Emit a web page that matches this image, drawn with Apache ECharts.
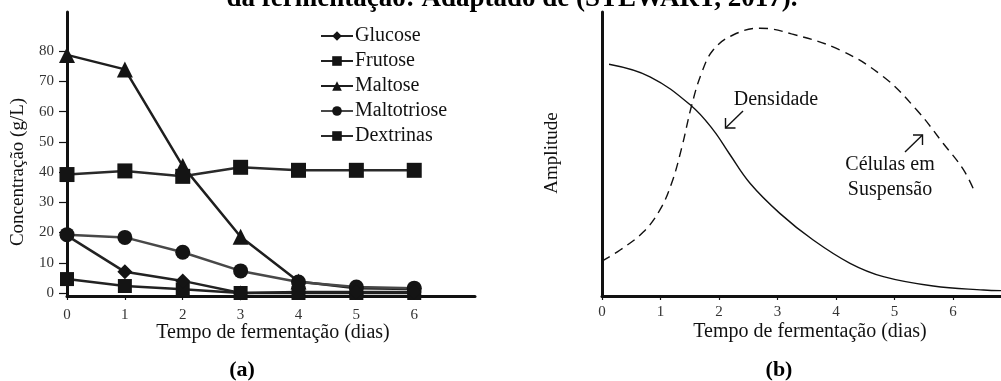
<!DOCTYPE html>
<html>
<head>
<meta charset="utf-8">
<script src="https://cdn.jsdelivr.net/npm/echarts@6/dist/echarts.min.js"></script>
<style>
html,body{margin:0;padding:0;background:#fff;}
#chart{width:1001px;height:381px;}
</style>
</head>
<body>
<div id="chart"></div>
<script>
// ---- Panel (a) data ----
const days = [0, 1, 2, 3, 4, 5, 6];
const glucose = [19, 7, 4, 0, 0.3, 0.3, 0.3];
const frutose = [4.6, 2.3, 1.2, 0, 0, 0, 0];
const maltose = [78.8, 74, 42, 18.6, 3.8, 1.6, 1.3];
const maltotriose = [19.3, 18.4, 13.5, 7.3, 3.6, 2, 1.6];
const dextrinas = [39.2, 40.4, 38.6, 41.6, 40.6, 40.6, 40.6];
const yTicksA = [0, 10, 20, 30, 40, 50, 60, 70, 80];
const xTicks = [0, 1, 2, 3, 4, 5, 6];

// ---- Panel (b) data (relative amplitude) ----
const densX = [0.12, 0.82, 1.53, 1.9, 2.18, 2.53, 3.04, 3.61, 4.24, 4.81, 5.66, 6.52, 6.82];
const densY = [81.6, 77.2, 66.9, 58.5, 50, 39.7, 29.1, 19.7, 11.5, 6.8, 3.5, 2.1, 1.9];
const celX = [0, 0.31, 0.71, 0.99, 1.19, 1.36, 1.53, 1.7, 1.9, 2.24, 2.7, 3.24, 4.07, 4.81, 5.38, 5.83, 6.18, 6.38];
const celY = [12.3, 16.2, 22.6, 30.3, 39.7, 52, 66.9, 78.4, 86.6, 91.9, 94.3, 92.3, 86.6, 77.2, 65.5, 53.8, 44.4, 36.2];

const serif = 'Liberation Serif';
const pair = (xs, ys) => xs.map((x, i) => [x, ys[i]]);

const chart = echarts.init(document.getElementById('chart'), null, {renderer: 'canvas'});

function lineSeries(name, values, symbol, size, lineColor) {
  return {
    name: name, type: 'line', xAxisIndex: 0, yAxisIndex: 0,
    data: pair(days, values),
    symbol: symbol, symbolSize: size, showAllSymbol: true,
    itemStyle: {color: '#141414'},
    lineStyle: {color: lineColor || '#222', width: 2.5},
    clip: false, animation: false
  };
}

function txt(text, x, y, size, opts) {
  opts = opts || {};
  return {
    type: 'text', x: x, y: y, rotation: opts.rot || 0, silent: true,
    style: {
      text: text, fill: opts.color || '#111', align: 'center', verticalAlign: 'middle',
      font: (opts.bold ? 'bold ' : '') + size + 'px "' + serif + '"'
    }
  };
}
function poly(points, w) {
  return {type: 'polyline', silent: true, shape: {points: points}, style: {stroke: '#111', lineWidth: w || 1.4, fill: null}};
}

const option = {
  animation: false,
  backgroundColor: '#fff',
  textStyle: {fontFamily: serif},
  grid: [
    {left: 67, top: 12, width: 408, height: 284},
    {left: 602, top: 12, width: 399, height: 284}
  ],
  legend: {
    orient: 'vertical', left: 320, top: 26, padding: 0, itemWidth: 32, itemHeight: 12, itemGap: 5,
    textStyle: {fontFamily: serif, fontSize: 20, color: '#111', padding: [0, 0, 0, -3]},
    data: ['Glucose', 'Frutose', 'Maltose', 'Maltotriose', 'Dextrinas']
  },
  xAxis: [
    {
      type: 'value', gridIndex: 0, min: 0, max: 7.05, interval: 1,
      axisLine: {onZero: false, lineStyle: {color: '#111', width: 3}},
      axisTick: {show: true, length: 4, customValues: xTicks, lineStyle: {color: '#111', width: 1.2}},
      axisLabel: {customValues: xTicks, margin: 12, fontFamily: serif, fontSize: 15, color: '#333'},
      splitLine: {show: false}
    },
    {
      type: 'value', gridIndex: 1, min: 0, max: 6.82, interval: 1,
      axisLine: {onZero: false, lineStyle: {color: '#111', width: 3}},
      axisTick: {show: true, length: 4, customValues: xTicks, lineStyle: {color: '#111', width: 1.2}},
      axisLabel: {customValues: xTicks, margin: 9, fontFamily: serif, fontSize: 15, color: '#333'},
      splitLine: {show: false}
    }
  ],
  yAxis: [
    {
      type: 'value', gridIndex: 0, min: -1, max: 93, interval: 10,
      axisLine: {show: true, onZero: false, lineStyle: {color: '#111', width: 3}},
      axisTick: {show: true, length: 8, customValues: yTicksA, lineStyle: {color: '#111', width: 1.2}},
      axisLabel: {customValues: yTicksA, margin: 13, fontFamily: serif, fontSize: 15, color: '#333'},
      splitLine: {show: false}
    },
    {
      type: 'value', gridIndex: 1, min: 0, max: 100,
      axisLine: {show: true, onZero: false, lineStyle: {color: '#111', width: 3}},
      axisTick: {show: false}, axisLabel: {show: false}, splitLine: {show: false}
    }
  ],
  series: [
    lineSeries('Dextrinas', dextrinas, 'rect', 15, '#2a2a2a'),
    lineSeries('Maltose', maltose, 'triangle', 16, '#1e1e1e'),
    lineSeries('Maltotriose', maltotriose, 'circle', 15, '#484848'),
    lineSeries('Frutose', frutose, 'rect', 14, '#222'),
    lineSeries('Glucose', glucose, 'diamond', 15, '#222'),
    {
      name: 'Densidade', type: 'line', xAxisIndex: 1, yAxisIndex: 1,
      data: pair(densX, densY), smooth: 0.4, showSymbol: false, symbol: 'none',
      lineStyle: {color: '#111', width: 1.4}, clip: true
    },
    {
      name: 'Células em Suspensão', type: 'line', xAxisIndex: 1, yAxisIndex: 1,
      data: pair(celX, celY), smooth: 0.4, showSymbol: false, symbol: 'none',
      lineStyle: {color: '#111', width: 1.4, type: [9, 6]}, clip: true
    }
  ],
  graphic: [
    txt('da fermentação: Adaptado de (STEWART, 2017).', 512, -1, 27, {bold: true, color: '#000'}),
    txt('Concentração (g/L)', 18, 172, 19, {rot: Math.PI / 2}),
    txt('Tempo de fermentação (dias)', 273, 333, 20),
    txt('(a)', 242, 370, 22, {bold: true, color: '#000'}),
    txt('Amplitude', 552, 153, 19, {rot: Math.PI / 2}),
    txt('Tempo de fermentação (dias)', 810, 332, 20),
    txt('(b)', 779, 370, 22, {bold: true, color: '#000'}),
    txt('Densidade', 776, 100, 20),
    txt('Células em', 890, 165, 20),
    txt('Suspensão', 890, 190, 20),
    poly([[743, 111], [725.5, 128]]),
    poly([[725.5, 118], [725.5, 128], [735.5, 128]]),
    poly([[905, 152], [922.5, 135]]),
    poly([[913, 135], [922.5, 135], [922.5, 145]])
  ]
};
chart.setOption(option);
</script>
</body>
</html>
